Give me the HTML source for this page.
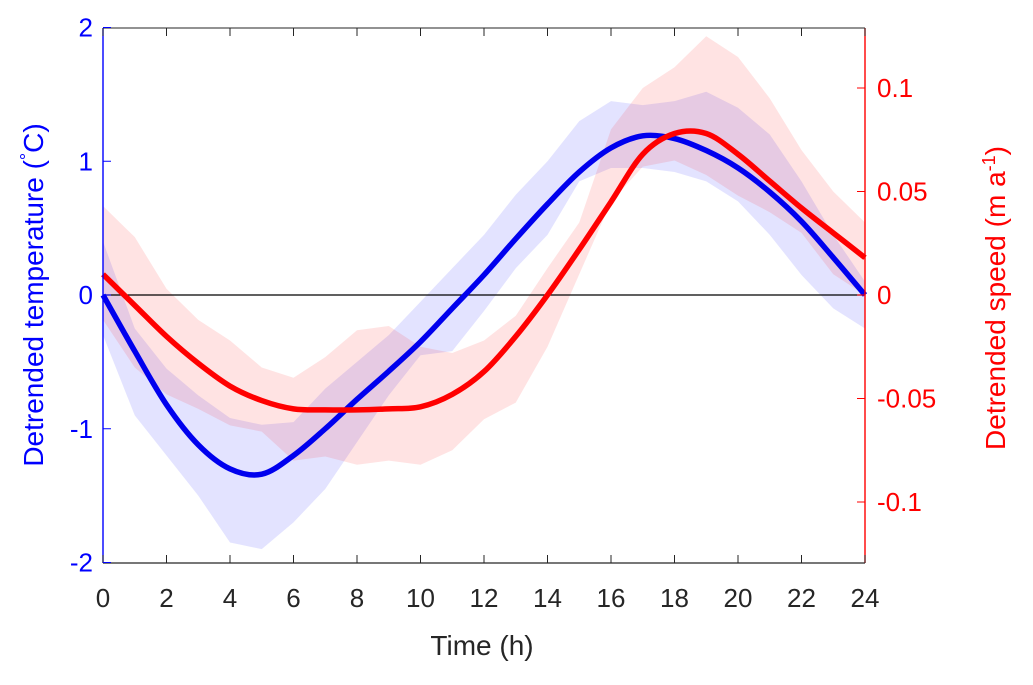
<!DOCTYPE html>
<html><head><meta charset="utf-8"><style>
body{margin:0;background:#fff;width:1033px;height:680px;overflow:hidden}
svg{font-family:"Liberation Sans",Arial,sans-serif}
</style></head><body>
<svg id="chart" width="1033" height="680">
<g id="bands"></g><g id="lines"></g><g id="axes"></g>
</svg>
<script>
const hours=[0,1,2,3,4,5,6,7,8,9,10,11,12,13,14,15,16,17,18,19,20,21,22,23,24];
const tempMean=[0,-0.42,-0.82,-1.12,-1.3,-1.34,-1.2,-1.0,-0.78,-0.57,-0.35,-0.1,0.15,0.42,0.68,0.92,1.1,1.19,1.17,1.08,0.95,0.77,0.55,0.28,0];
const tempUpper=[0.4,-0.25,-0.55,-0.75,-0.92,-0.97,-0.95,-0.7,-0.5,-0.3,-0.05,0.2,0.45,0.75,1.0,1.3,1.45,1.42,1.45,1.52,1.4,1.2,0.85,0.45,0.1];
const tempLower=[-0.3,-0.9,-1.2,-1.5,-1.85,-1.9,-1.7,-1.45,-1.1,-0.75,-0.45,-0.42,-0.12,0.2,0.45,0.85,0.95,0.95,0.92,0.85,0.7,0.45,0.15,-0.1,-0.25];
const speedMean=[0.01,-0.005,-0.02,-0.033,-0.044,-0.051,-0.055,-0.0555,-0.0555,-0.055,-0.054,-0.048,-0.037,-0.02,0,0.022,0.045,0.068,0.078,0.078,0.068,0.055,0.042,0.03,0.018];
const speedUpper=[0.043,0.028,0.003,-0.012,-0.022,-0.035,-0.04,-0.03,-0.017,-0.015,-0.025,-0.028,-0.022,-0.01,0.013,0.035,0.08,0.1,0.11,0.125,0.115,0.095,0.07,0.05,0.035];
const speedLower=[-0.012,-0.035,-0.048,-0.055,-0.063,-0.066,-0.08,-0.078,-0.082,-0.08,-0.082,-0.075,-0.06,-0.052,-0.025,0.01,0.045,0.062,0.065,0.058,0.048,0.04,0.03,0.01,0];
const xTicks=[0,2,4,6,8,10,12,14,16,18,20,22,24];
const yLeftTicks=[-2,-1,0,1,2];
const yRightTicks=[-0.1,-0.05,0,0.05,0.1];
const yRightLabels=["-0.1","-0.05","0","0.05","0.1"];

const L=103,R=865,T=28,B=563;
const x=h=>L+h*(R-L)/24;
const yl=v=>295-v*133.75;
const yr=v=>295-v*2070;
const NS="http://www.w3.org/2000/svg";
function mk(tag,attrs,parent){const e=document.createElementNS(NS,tag);for(const k in attrs)e.setAttribute(k,attrs[k]);parent.appendChild(e);return e;}
function smooth(pts){let d="M"+pts[0][0]+","+pts[0][1];for(let i=0;i<pts.length-1;i++){const p0=pts[i-1]||pts[i],p1=pts[i],p2=pts[i+1],p3=pts[i+2]||p2;
d+=" C"+(p1[0]+(p2[0]-p0[0])/6)+","+(p1[1]+(p2[1]-p0[1])/6)+" "+(p2[0]-(p3[0]-p1[0])/6)+","+(p2[1]-(p3[1]-p1[1])/6)+" "+p2[0]+","+p2[1];}return d;}
const bands=document.getElementById('bands'),lines=document.getElementById('lines'),axes=document.getElementById('axes');
function band(up,lo,fy,col,name){const pts=hours.map((h,i)=>x(h)+","+fy(up[i])).concat(hours.slice().reverse().map((h,j)=>{const i=hours.length-1-j;return x(h)+","+fy(lo[i]);}));
const p=mk('polygon',{points:pts.join(' '),fill:col,'fill-opacity':0.11},bands);

}
band(tempUpper,tempLower,yl,'#0000ff','temperature-band');
band(speedUpper,speedLower,yr,'#ff0000','speed-band');
const zl=mk('line',{x1:L,x2:R,y1:yl(0),y2:yl(0),stroke:'#000','stroke-width':1.3},lines);


const tl=mk('path',{d:smooth(hours.map((h,i)=>[x(h),yl(tempMean[i])])),fill:'none',stroke:'#0000ee','stroke-width':5.5},lines);


const sl=mk('path',{d:smooth(hours.map((h,i)=>[x(h),yr(speedMean[i])])),fill:'none',stroke:'#ff0000','stroke-width':5.5},lines);


mk('line',{x1:L,x2:R,y1:T,y2:T,stroke:'#262626','stroke-width':1},axes);
mk('line',{x1:L,x2:R,y1:B,y2:B,stroke:'#262626','stroke-width':1.2},axes);
mk('line',{x1:L,x2:L,y1:T,y2:B,stroke:'#0000ff','stroke-width':1.4},axes);
mk('line',{x1:R,x2:R,y1:T,y2:B,stroke:'#ff0000','stroke-width':1.4},axes);
xTicks.forEach(t=>{mk('line',{x1:x(t),x2:x(t),y1:B,y2:B-8,stroke:'#262626'},axes);mk('line',{x1:x(t),x2:x(t),y1:T,y2:T+8,stroke:'#262626'},axes);
const e=mk('text',{x:x(t),y:B+44,'text-anchor':'middle','font-size':26,fill:'#262626'},axes);e.textContent=t;

});
yLeftTicks.forEach(t=>{mk('line',{x1:L,x2:L+8,y1:yl(t),y2:yl(t),stroke:'#0000ff'},axes);
const e=mk('text',{x:L-10,y:yl(t)+9,'text-anchor':'end','font-size':26,fill:'#0000ff'},axes);e.textContent=t;

});
yRightTicks.forEach((t,i)=>{mk('line',{x1:R,x2:R-8,y1:yr(t),y2:yr(t),stroke:'#ff0000'},axes);
const e=mk('text',{x:R+12,y:yr(t)+9,'font-size':26,fill:'#ff0000'},axes);e.textContent=yRightLabels[i];

});
</script>
<svg width="1033" height="680" style="position:absolute;left:0;top:0">
<text x="482" y="655" text-anchor="middle" font-size="28" fill="#262626" font-family="Liberation Sans, sans-serif">Time (h)</text>
<text transform="translate(43,295) rotate(-90)" text-anchor="middle" font-size="28" fill="#0000ff" font-family="Liberation Sans, sans-serif">Detrended temperature (<tspan baseline-shift="super" font-size="18">°</tspan>C)</text>
<text transform="translate(1005,298) rotate(-90)" text-anchor="middle" font-size="28" fill="#ff0000" font-family="Liberation Sans, sans-serif">Detrended speed (m a<tspan baseline-shift="super" font-size="18">-1</tspan>)</text>
</svg>
</body></html>
